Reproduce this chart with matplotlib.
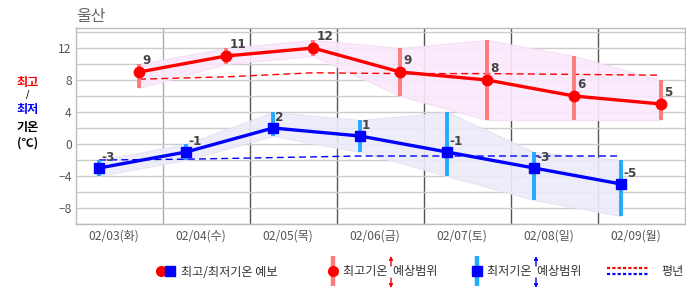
"""
Ulsan 7-day forecast: daily high/low with forecast ranges and normals.
Writes out.png (686x295).
"""

import numpy as np
import matplotlib
matplotlib.use("Agg")
import matplotlib.pyplot as plt
from matplotlib.lines import Line2D
from matplotlib.legend_handler import HandlerTuple, HandlerBase

plt.rcParams["font.family"] = ["Noto Sans CJK KR", "DejaVu Sans"]
plt.rcParams["axes.unicode_minus"] = True

# ---- data ----
days = ["02/03(화)", "02/04(수)", "02/05(목)", "02/06(금)", "02/07(토)", "02/08(일)", "02/09(월)"]
high = [9, 11, 12, 9, 8, 6, 5]
low = [-3, -1, 2, 1, -1, -3, -5]
high_lo = [7, 10, 11, 6, 3, 3, 3]
high_hi = [10, 12, 13, 12, 13, 11, 8]
low_lo = [-4, -2, 1, -1, -4, -7, -9]
low_hi = [-2, 0, 4, 3, 4, -1, -2]
normal_high = [8.1, 8.4, 8.9, 8.8, 8.8, 8.7, 8.6]
normal_low = [-2.0, -1.9, -1.7, -1.5, -1.5, -1.5, -1.5]

RED = "#ff0000"
BLUE = "#0000ff"
RED_BAR = "#ff7b7b"
BLUE_BAR = "#22aaff"
TXT = "#555555"
FS = 8.7


class HandlerNormal(HandlerBase):
    """two stacked dotted lines (red over blue)"""

    def create_artists(self, legend, orig_handle, xdescent, ydescent,
                       width, height, fontsize, trans):
        yc = height / 2 - ydescent
        out = []
        for dy, c in [(2.0, RED), (-2.0, BLUE)]:
            ln = Line2D([-xdescent, width - xdescent], [yc + dy, yc + dy],
                        color=c, lw=1.6, dashes=(1.4, 1.0), transform=trans)
            out.append(ln)
        return out


def main() -> None:
    fig = plt.figure(figsize=(6.86, 2.95), dpi=100)
    ax = fig.add_axes([76 / 686, 71 / 295, 609 / 686, 196 / 295])

    n = len(days)
    idx = np.arange(n)
    xh = idx + 0.725   # high markers sit right of band centre
    xl = idx + 0.265   # low markers sit left

    # shaded range bands
    ax.fill_between(xh, high_lo, high_hi, color="#fbe8fb", alpha=0.9, lw=0.8,
                    edgecolor="#f6dcf6", zorder=1)
    ax.fill_between(xl, low_lo, low_hi, color="#ebebf9", alpha=0.9, lw=0.8,
                    edgecolor="#e2e2f6", zorder=1)

    # normals
    ax.plot(xh, normal_high, color=RED, lw=1.0, dashes=(5, 3), zorder=2)
    ax.plot(xl, normal_low, color=BLUE, lw=1.0, dashes=(5, 3), zorder=2)

    # range bars
    ax.vlines(xh, high_lo, high_hi, color=RED_BAR, lw=2.8, zorder=3)
    ax.vlines(xl, low_lo, low_hi, color=BLUE_BAR, lw=2.8, zorder=3)

    # forecast lines
    ax.plot(xh, high, color=RED, lw=2.4, marker="o", ms=7.5, zorder=4)
    ax.plot(xl, low, color=BLUE, lw=2.4, marker="s", ms=7.5, zorder=4)

    for x, v in zip(xh, high):
        ax.annotate(f"{v}", (x, v), xytext=(2.5, 3.5), textcoords="offset points",
                    ha="left", va="bottom", fontsize=FS, fontweight="bold",
                    color="#444444", family=["DejaVu Sans"], zorder=5)
    for x, v in zip(xl, low):
        ax.annotate(f"{v}", (x, v), xytext=(1.5, 3.0), textcoords="offset points",
                    ha="left", va="bottom", fontsize=FS, fontweight="bold",
                    color="#444444", family=["DejaVu Sans"], zorder=5)

    # axes styling
    ax.set_xlim(0, n)
    ax.set_ylim(-10, 14.5)
    ax.set_yticks([-8, -4, 0, 4, 8, 12])
    ax.set_yticklabels(["−8", "−4", "0", "4", "8", "12"])
    ax.set_yticks(np.arange(-10, 15, 2), minor=True)
    ax.grid(axis="y", which="both", color="#cccccc", lw=1.0, zorder=0)
    ax.set_xticks(idx + 0.43)
    ax.set_xticklabels(days)
    ax.tick_params(axis="both", which="both", length=0, labelsize=FS, colors=TXT)
    ax.tick_params(axis="x", pad=4)
    ax.tick_params(axis="y", pad=3)
    for s in ax.spines.values():
        s.set_color("#bbbbbb")
        s.set_linewidth(1.0)
    for i in range(1, n):
        ax.axvline(i, color="#aaaaaa" if i == 1 else "#555555", lw=1.0, zorder=0.5)
    ax.set_axisbelow(True)

    # title + left axis label
    fig.text(76 / 686, 1 - 17 / 295, "울산", fontsize=11.5, color="#666666",
             ha="left", va="center")
    fig.text(28 / 686, 1 - 82 / 295, "최고", fontsize=FS, color=RED, fontweight="bold",
             ha="center", va="center")
    fig.text(28 / 686, 1 - 95 / 295, "/", fontsize=7, color="#000000",
             ha="center", va="center", family=["DejaVu Sans"])
    fig.text(28 / 686, 1 - 110 / 295, "최저", fontsize=FS, color=BLUE, fontweight="bold",
             ha="center", va="center")
    fig.text(28 / 686, 1 - 127 / 295, "기온", fontsize=FS, color="#000000",
             fontweight="bold", ha="center", va="center")
    fig.text(28 / 686, 1 - 143 / 295, "(℃)", fontsize=FS, color="#000000",
             fontweight="bold", ha="center", va="center")

    # legend: four separate entries along the bottom
    ly = 1 - 272 / 295
    h_fc = (Line2D([], [], ls="", marker="o", ms=7, color=RED),
            Line2D([], [], ls="", marker="s", ms=6.5, color=BLUE))
    h_hr = (Line2D([], [], ls="", marker="|", ms=21, mew=3.2, color=RED_BAR),
            Line2D([], [], ls="", marker="o", ms=7, color=RED))
    h_lr = (Line2D([], [], ls="", marker="|", ms=21, mew=3.2, color=BLUE_BAR),
            Line2D([], [], ls="", marker="s", ms=6.5, color=BLUE))
    h_nm = Line2D([], [], color=RED)

    entries = [
        (h_fc, "최고/최저기온 예보", 156, 1.5, 0.6, HandlerTuple(ndivide=2, pad=0.0)),
        (h_hr, "최고기온  예상범위", 327, 1.0, 0.3, HandlerTuple(ndivide=1)),
        (h_lr, "최저기온  예상범위", 471, 1.0, 0.3, HandlerTuple(ndivide=1)),
        (h_nm, "평년", 607, 3.4, 1.1, HandlerNormal()),
    ]
    for h, lab, px, hl, tp, hnd in entries:
        leg = fig.legend([h], [lab], loc="center left",
                         bbox_to_anchor=(px / 686, ly), frameon=False,
                         handlelength=hl, handletextpad=tp, borderpad=0,
                         borderaxespad=0, fontsize=FS, handler_map={type(h): hnd})
        for t in leg.get_texts():
            t.set_color("#333333")

    # arrows inside range-legend labels
    for px, c in [(391, RED), (536, BLUE)]:
        ax.annotate("", xy=(px, 295 - 256), xytext=(px, 295 - 266),
                    xycoords="figure pixels", textcoords="figure pixels",
                    arrowprops=dict(arrowstyle="-|>", color=c, lw=1.0,
                                    mutation_scale=5, shrinkA=0, shrinkB=0))
        ax.annotate("", xy=(px, 295 - 288), xytext=(px, 295 - 278),
                    xycoords="figure pixels", textcoords="figure pixels",
                    arrowprops=dict(arrowstyle="-|>", color=c, lw=1.0,
                                    mutation_scale=5, shrinkA=0, shrinkB=0))

    fig.savefig("out.png", dpi=100)
    plt.close(fig)


if __name__ == "__main__":
    main()
